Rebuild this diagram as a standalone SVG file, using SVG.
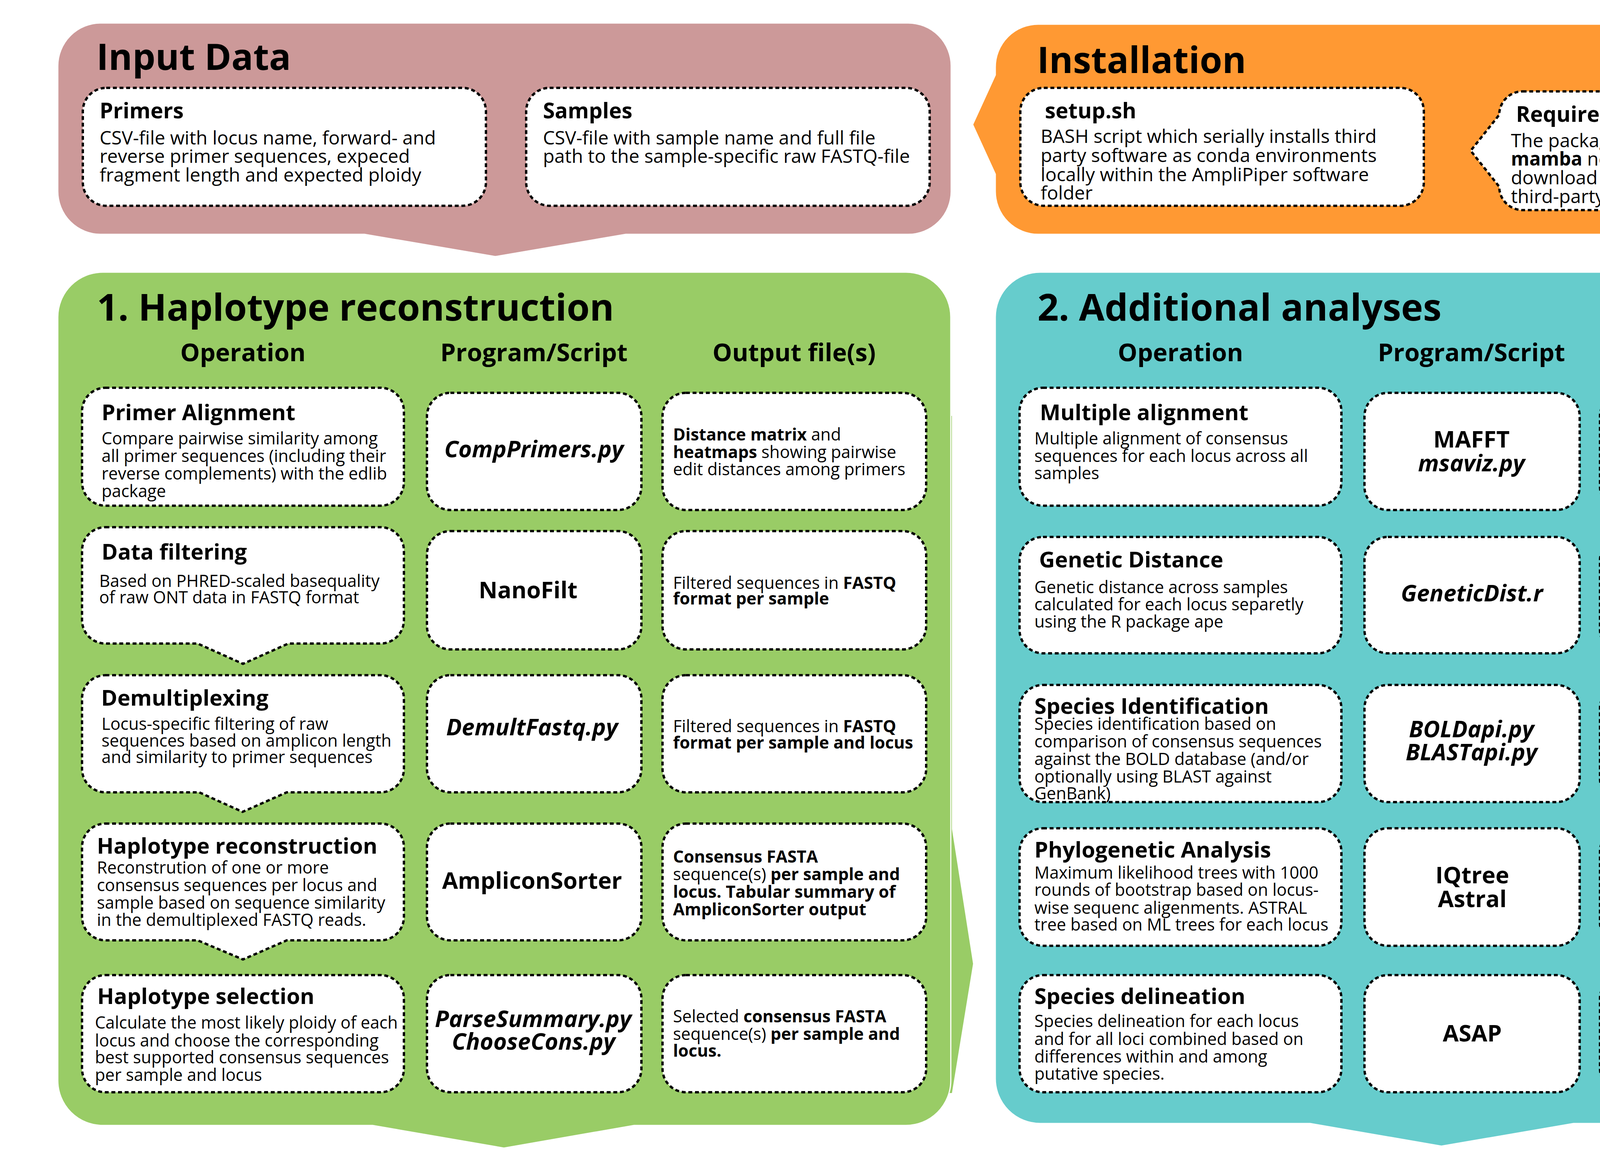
<svg xmlns="http://www.w3.org/2000/svg" width="5000" height="2991" viewBox="0 0 5000 2991" font-family="'Open Sans', 'Noto Sans', sans-serif">
<style>
.panel{stroke:#fff;stroke-width:3}
.box{fill:#fff;stroke:#000;stroke-width:6;stroke-dasharray:10 7}
text{fill:#000}
.pt{font-size:95px;font-weight:700}
.tt{font-size:93px;font-weight:700}
.hd{font-size:63px;font-weight:700;text-anchor:middle}
.nt{font-size:56px;font-weight:700}
.tnt{font-size:55px;font-weight:700}
.bd{font-size:43px}
.tbd{font-size:48px}
.pg{font-size:59px;font-weight:700;text-anchor:middle}
.it{font-style:italic}
.b{font-weight:700}
</style>
<rect width="5000" height="2991" fill="#fff"/>

<!-- Panels -->
<g id="panel-input">
<path class="panel" fill="#CC9999" d="M258 59 H2325 A110 110 0 0 1 2435 169 V490 A110 110 0 0 1 2325 600 H1602 L1268 657 L933 600 H258 A110 110 0 0 1 148 490 V169 A110 110 0 0 1 258 59 Z"/>
<text class="tt" x="247" y="179">Input Data</text>
</g>
<g id="panel-install">
<path class="panel" fill="#FF9933" d="M2658 62 H4726 A110 110 0 0 1 4836 172 V490 A110 110 0 0 1 4726 600 H2658 A110 110 0 0 1 2548 490 V446 L2490 319 L2548 192 V172 A110 110 0 0 1 2658 62 Z"/>
<text class="tt" x="2655" y="187">Installation</text>
</g>
<g id="panel-haplo">
<polygon fill="#99CC66" points="2400,1065 2437,1065 2437,2123 2491,2468 2437,2799 2400,2799"/>
<path class="panel" fill="#99CC66" d="M263 697 H2319 A115 115 0 0 1 2434 812 V2767 A115 115 0 0 1 2319 2882 H1623 L1290 2940 L954 2882 H263 A115 115 0 0 1 148 2767 V812 A115 115 0 0 1 263 697 Z"/>
<text class="pt" x="248" y="821">1. Haplotype reconstruction</text>
<text class="hd" x="622" y="925">Operation</text>
<text class="hd" x="1367" y="925">Program/Script</text>
<text class="hd" x="2033" y="925">Output file(s)</text>
</g>
<g id="panel-additional">
<path class="panel" fill="#66CCCC" d="M2663 697 H4719 A115 115 0 0 1 4834 812 V2762 A115 115 0 0 1 4719 2877 H4028 L3690 2935 L3354 2877 H2663 A115 115 0 0 1 2548 2762 V812 A115 115 0 0 1 2663 697 Z"/>
<text class="pt" x="2656" y="821">2. Additional analyses</text>
<text class="hd" x="3022" y="925">Operation</text>
<text class="hd" x="3767" y="925">Program/Script</text>
<text class="hd" x="4433" y="925">Output file(s)</text>
</g>

<!-- Top nodes -->
<g id="primers">
<rect class="box" x="212" y="225" width="1032" height="302" rx="60"/>
<text class="tnt" x="255" y="303">Primers</text>
<text class="tbd" x="255" y="370">CSV-file with locus name, forward- and</text>
<text class="tbd" x="255" y="417">reverse primer sequences, expeced</text>
<text class="tbd" x="255" y="465">fragment length and expected ploidy</text>
</g>
<g id="samples">
<rect class="box" x="1347" y="225" width="1033" height="302" rx="60"/>
<text class="tnt" x="1390" y="303">Samples</text>
<text class="tbd" x="1390" y="370">CSV-file with sample name and full file</text>
<text class="tbd" x="1390" y="417">path to the sample-specific raw FASTQ-file</text>
</g>
<g id="setup">
<rect class="box" x="2612" y="225" width="1033" height="302" rx="60"/>
<text class="tnt" x="2675" y="303">setup.sh</text>
<text class="tbd" x="2664" y="366">BASH script which serially installs third</text>
<text class="tbd" x="2664" y="415">party software as conda environments</text>
<text class="tbd" x="2664" y="464">locally within the AmpliPiper software</text>
<text class="tbd" x="2664" y="511">folder</text>
</g>
<g id="requirements">
<path class="box" d="M3898 234 H4667 A60 60 0 0 1 4727 294 V478 A60 60 0 0 1 4667 538 H3898 A60 60 0 0 1 3838 478 L3765 386 L3838 294 A60 60 0 0 1 3898 234 Z"/>
<text class="tnt" x="3881" y="312">Requirements</text>
<text class="tbd" x="3868" y="377">The package managers <tspan class="b">conda</tspan> and</text>
<text class="tbd" x="3868" y="424"><tspan class="b">mamba</tspan> need to be preinstalled to</text>
<text class="tbd" x="3868" y="472">download and install required</text>
<text class="tbd" x="3868" y="520">third-party software</text>
</g>

<!-- Haplotype reconstruction nodes -->
<g id="op-primer-alignment">
<rect class="box" x="210" y="993" width="824" height="302" rx="60"/>
<text class="nt" x="260" y="1076">Primer Alignment</text>
<text class="bd" x="260" y="1138">Compare pairwise similarity among</text>
<text class="bd" x="260" y="1183">all primer sequences (including their</text>
<text class="bd" x="260" y="1228">reverse complements) with the edlib</text>
<text class="bd" x="260" y="1273">package</text>
</g>
<g id="prog-comprimers">
<rect class="box" x="1093" y="1006" width="549" height="300" rx="60"/>
<text class="pg it" x="1367" y="1171">CompPrimers.py</text>
</g>
<g id="out-comprimers">
<rect class="box" x="1696" y="1006" width="675" height="300" rx="60"/>
<text class="bd" x="1723" y="1128"><tspan class="b">Distance matrix</tspan> and</text>
<text class="bd" x="1723" y="1173"><tspan class="b">heatmaps</tspan> showing pairwise</text>
<text class="bd" x="1723" y="1217">edit distances among primers</text>
</g>

<g id="op-data-filtering">
<path class="box" d="M270 1350 H974 A60 60 0 0 1 1034 1410 V1588 A60 60 0 0 1 974 1648 H738 L622 1700 L506 1648 H270 A60 60 0 0 1 210 1588 V1410 A60 60 0 0 1 270 1350 Z"/>
<text class="nt" x="260" y="1433">Data filtering</text>
<text class="bd" x="254" y="1503">Based on PHRED-scaled basequality</text>
<text class="bd" x="254" y="1545">of raw ONT data in FASTQ format</text>
</g>
<g id="prog-nanofilt">
<rect class="box" x="1093" y="1360" width="549" height="303" rx="60"/>
<text class="pg" x="1352" y="1532">NanoFilt</text>
</g>
<g id="out-nanofilt">
<rect class="box" x="1696" y="1360" width="675" height="303" rx="60"/>
<text class="bd" x="1723" y="1508">Filtered sequences in <tspan class="b">FASTQ</tspan></text>
<text class="bd b" x="1723" y="1548">format per sample</text>
</g>

<g id="op-demultiplexing">
<path class="box" d="M270 1729 H974 A60 60 0 0 1 1034 1789 V1969 A60 60 0 0 1 974 2029 H734 L621 2079 L510 2029 H270 A60 60 0 0 1 210 1969 V1789 A60 60 0 0 1 270 1729 Z"/>
<text class="nt" x="259" y="1807">Demultiplexing</text>
<text class="bd" x="260" y="1869">Locus-specific filtering of raw</text>
<text class="bd" x="260" y="1912">sequences based on amplicon length</text>
<text class="bd" x="260" y="1954">and similarity to primer sequences</text>
</g>
<g id="prog-demultfastq">
<rect class="box" x="1093" y="1729" width="549" height="300" rx="60"/>
<text class="pg it" x="1362" y="1883">DemultFastq.py</text>
</g>
<g id="out-demultfastq">
<rect class="box" x="1696" y="1729" width="675" height="300" rx="60"/>
<text class="bd" x="1723" y="1875">Filtered sequences in <tspan class="b">FASTQ</tspan></text>
<text class="bd b" x="1723" y="1917">format per sample and locus</text>
</g>

<g id="op-haplotype-reconstruction">
<path class="box" d="M270 2109 H974 A60 60 0 0 1 1034 2169 V2348 A60 60 0 0 1 974 2408 H734 L622 2457 L506 2408 H270 A60 60 0 0 1 210 2348 V2169 A60 60 0 0 1 270 2109 Z"/>
<text class="nt" x="248" y="2186">Haplotype reconstruction</text>
<text class="bd" x="248" y="2237">Reconstrution of one or more</text>
<text class="bd" x="248" y="2282">consensus sequences per locus and</text>
<text class="bd" x="248" y="2327">sample based on sequence similarity</text>
<text class="bd" x="248" y="2371">in the demultiplexed FASTQ reads.</text>
</g>
<g id="prog-ampliconsorter">
<rect class="box" x="1093" y="2109" width="549" height="299" rx="60"/>
<text class="pg" x="1362" y="2276">AmpliconSorter</text>
</g>
<g id="out-ampliconsorter">
<rect class="box" x="1696" y="2109" width="675" height="299" rx="60"/>
<text class="bd b" x="1723" y="2209">Consensus FASTA</text>
<text class="bd" x="1723" y="2254">sequence(s) <tspan class="b">per sample and</tspan></text>
<text class="bd b" x="1723" y="2299">locus. Tabular summary of</text>
<text class="bd b" x="1723" y="2344">AmpliconSorter output</text>
</g>

<g id="op-haplotype-selection">
<rect class="box" x="210" y="2497" width="824" height="300" rx="60"/>
<text class="nt" x="249" y="2571">Haplotype selection</text>
<text class="bd" x="243" y="2634">Calculate the most likely ploidy of each</text>
<text class="bd" x="243" y="2680">locus and choose the corresponding</text>
<text class="bd" x="243" y="2723">best supported consensus sequences</text>
<text class="bd" x="243" y="2768">per sample and locus</text>
</g>
<g id="prog-parsesummary">
<rect class="box" x="1093" y="2497" width="549" height="300" rx="60"/>
<text class="pg it" x="1365" y="2630">ParseSummary.py</text>
<text class="pg it" x="1366" y="2688">ChooseCons.py</text>
</g>
<g id="out-parsesummary">
<rect class="box" x="1696" y="2497" width="675" height="300" rx="60"/>
<text class="bd" x="1723" y="2618">Selected <tspan class="b">consensus FASTA</tspan></text>
<text class="bd" x="1723" y="2663">sequence(s) <tspan class="b">per sample and</tspan></text>
<text class="bd b" x="1723" y="2706">locus.</text>
</g>

<!-- Additional analyses nodes -->
<g id="op-multiple-alignment">
<rect class="box" x="2610" y="993" width="824" height="302" rx="60"/>
<text class="nt" x="2662" y="1076">Multiple alignment</text>
<text class="bd" x="2648" y="1138">Multiple alignment of consensus</text>
<text class="bd" x="2648" y="1183">sequences for each locus across all</text>
<text class="bd" x="2648" y="1227">samples</text>
</g>
<g id="prog-mafft">
<rect class="box" x="3493" y="1006" width="551" height="300" rx="60"/>
<text class="pg" x="3767" y="1146">MAFFT</text>
<text class="pg it" x="3767" y="1207">msaviz.py</text>
</g>
<g id="out-mafft">
<rect class="box" x="4096" y="1006" width="676" height="300" rx="60"/>
<text class="bd" x="4123" y="1105"><tspan class="b">Alignment</tspan> files in <tspan class="b">FASTA</tspan></text>
<text class="bd" x="4123" y="1150">format for each locus. <tspan class="b">Visual</tspan></text>
<text class="bd b" x="4123" y="1194">alignment as static PNG</text>
<text class="bd" x="4123" y="1240">image generated with MSA</text>
</g>

<g id="op-genetic-distance">
<rect class="box" x="2610" y="1375" width="824" height="298" rx="60"/>
<text class="nt" x="2660" y="1453">Genetic Distance</text>
<text class="bd" x="2648" y="1519">Genetic distance across samples</text>
<text class="bd" x="2648" y="1563">calculated for each locus separetly</text>
<text class="bd" x="2648" y="1607">using the R package ape</text>
</g>
<g id="prog-geneticdist">
<rect class="box" x="3493" y="1375" width="551" height="298" rx="60"/>
<text class="pg it" x="3768" y="1540">GeneticDist.r</text>
</g>
<g id="out-geneticdist">
<rect class="box" x="4096" y="1375" width="676" height="298" rx="60"/>
<text class="bd" x="4123" y="1497"><tspan class="b">Heatmaps</tspan> showing <tspan class="b">genetic</tspan></text>
<text class="bd" x="4123" y="1542"><tspan class="b">distance</tspan> for each locus</text>
<text class="bd" x="4123" y="1586">seaprately</text>
</g>

<g id="op-species-identification">
<rect class="box" x="2610" y="1754" width="824" height="300" rx="60"/>
<text class="nt" x="2648" y="1828">Species Identification</text>
<text class="bd" x="2648" y="1869">Species identification based on</text>
<text class="bd" x="2648" y="1914">comparison of consensus sequences</text>
<text class="bd" x="2648" y="1959">against the BOLD database (and/or</text>
<text class="bd" x="2648" y="2004">optionally using BLAST against</text>
<text class="bd" x="2648" y="2047">GenBank)</text>
</g>
<g id="prog-boldapi">
<rect class="box" x="3493" y="1754" width="551" height="300" rx="60"/>
<text class="pg it" x="3767" y="1888">BOLDapi.py</text>
<text class="pg it" x="3767" y="1947">BLASTapi.py</text>
</g>
<g id="out-boldapi">
<rect class="box" x="4096" y="1754" width="676" height="300" rx="60"/>
<text class="bd" x="4123" y="1852"><tspan class="b">Table</tspan> with up to ten best</text>
<text class="bd" x="4123" y="1898">matching <tspan class="b">species names</tspan></text>
<text class="bd" x="4123" y="1943">inclusive <tspan class="b">percent sequence</tspan></text>
<text class="bd b" x="4123" y="1988">similarity</text>
</g>

<g id="op-phylogenetic-analysis">
<rect class="box" x="2610" y="2121" width="824" height="301" rx="60"/>
<text class="nt" x="2648" y="2196">Phylogenetic Analysis</text>
<text class="bd" x="2648" y="2250">Maximum likelihood trees with 1000</text>
<text class="bd" x="2648" y="2294">rounds of bootstrap based on locus-</text>
<text class="bd" x="2648" y="2340">wise sequenc aligenments. ASTRAL</text>
<text class="bd" x="2648" y="2383">tree based on ML trees for each locus</text>
</g>
<g id="prog-iqtree">
<rect class="box" x="3493" y="2121" width="551" height="301" rx="60"/>
<text class="pg" x="3769" y="2262">IQtree</text>
<text class="pg" x="3769" y="2323">Astral</text>
</g>
<g id="out-iqtree">
<rect class="box" x="4096" y="2121" width="676" height="301" rx="60"/>
<text class="bd b" x="4123" y="2182">Phylogenetic trees for each</text>
<text class="bd" x="4123" y="2227"><tspan class="b">locus</tspan> (and combined across all</text>
<text class="bd" x="4123" y="2272">loci) plotted in R with ggplot,</text>
<text class="bd" x="4123" y="2317">showing <tspan class="b">species names</tspan></text>
<text class="bd" x="4123" y="2361">(whenever possible) and</text>
<text class="bd b" x="4123" y="2406">bootstrap values</text>
</g>

<g id="op-species-delineation">
<rect class="box" x="2610" y="2497" width="824" height="300" rx="60"/>
<text class="nt" x="2648" y="2571">Species delineation</text>
<text class="bd" x="2648" y="2630">Species delineation for each locus</text>
<text class="bd" x="2648" y="2676">and for all loci combined based on</text>
<text class="bd" x="2648" y="2721">differences within and among</text>
<text class="bd" x="2648" y="2765">putative species.</text>
</g>
<g id="prog-asap">
<rect class="box" x="3493" y="2497" width="551" height="300" rx="60"/>
<text class="pg" x="3769" y="2667">ASAP</text>
</g>
<g id="out-asap">
<rect class="box" x="4096" y="2497" width="676" height="300" rx="60"/>
<text class="bd" x="4123" y="2596">Visual representation of <tspan class="b">locus-</tspan></text>
<text class="bd b" x="4123" y="2640">wise clusters of potential</text>
<text class="bd" x="4123" y="2685"><tspan class="b">species</tspan> alongside <tspan class="b">NJ tree</tspan> of</text>
<text class="bd" x="4123" y="2729">all sample</text>
</g>

<g id="connectors"></g>
</svg>
